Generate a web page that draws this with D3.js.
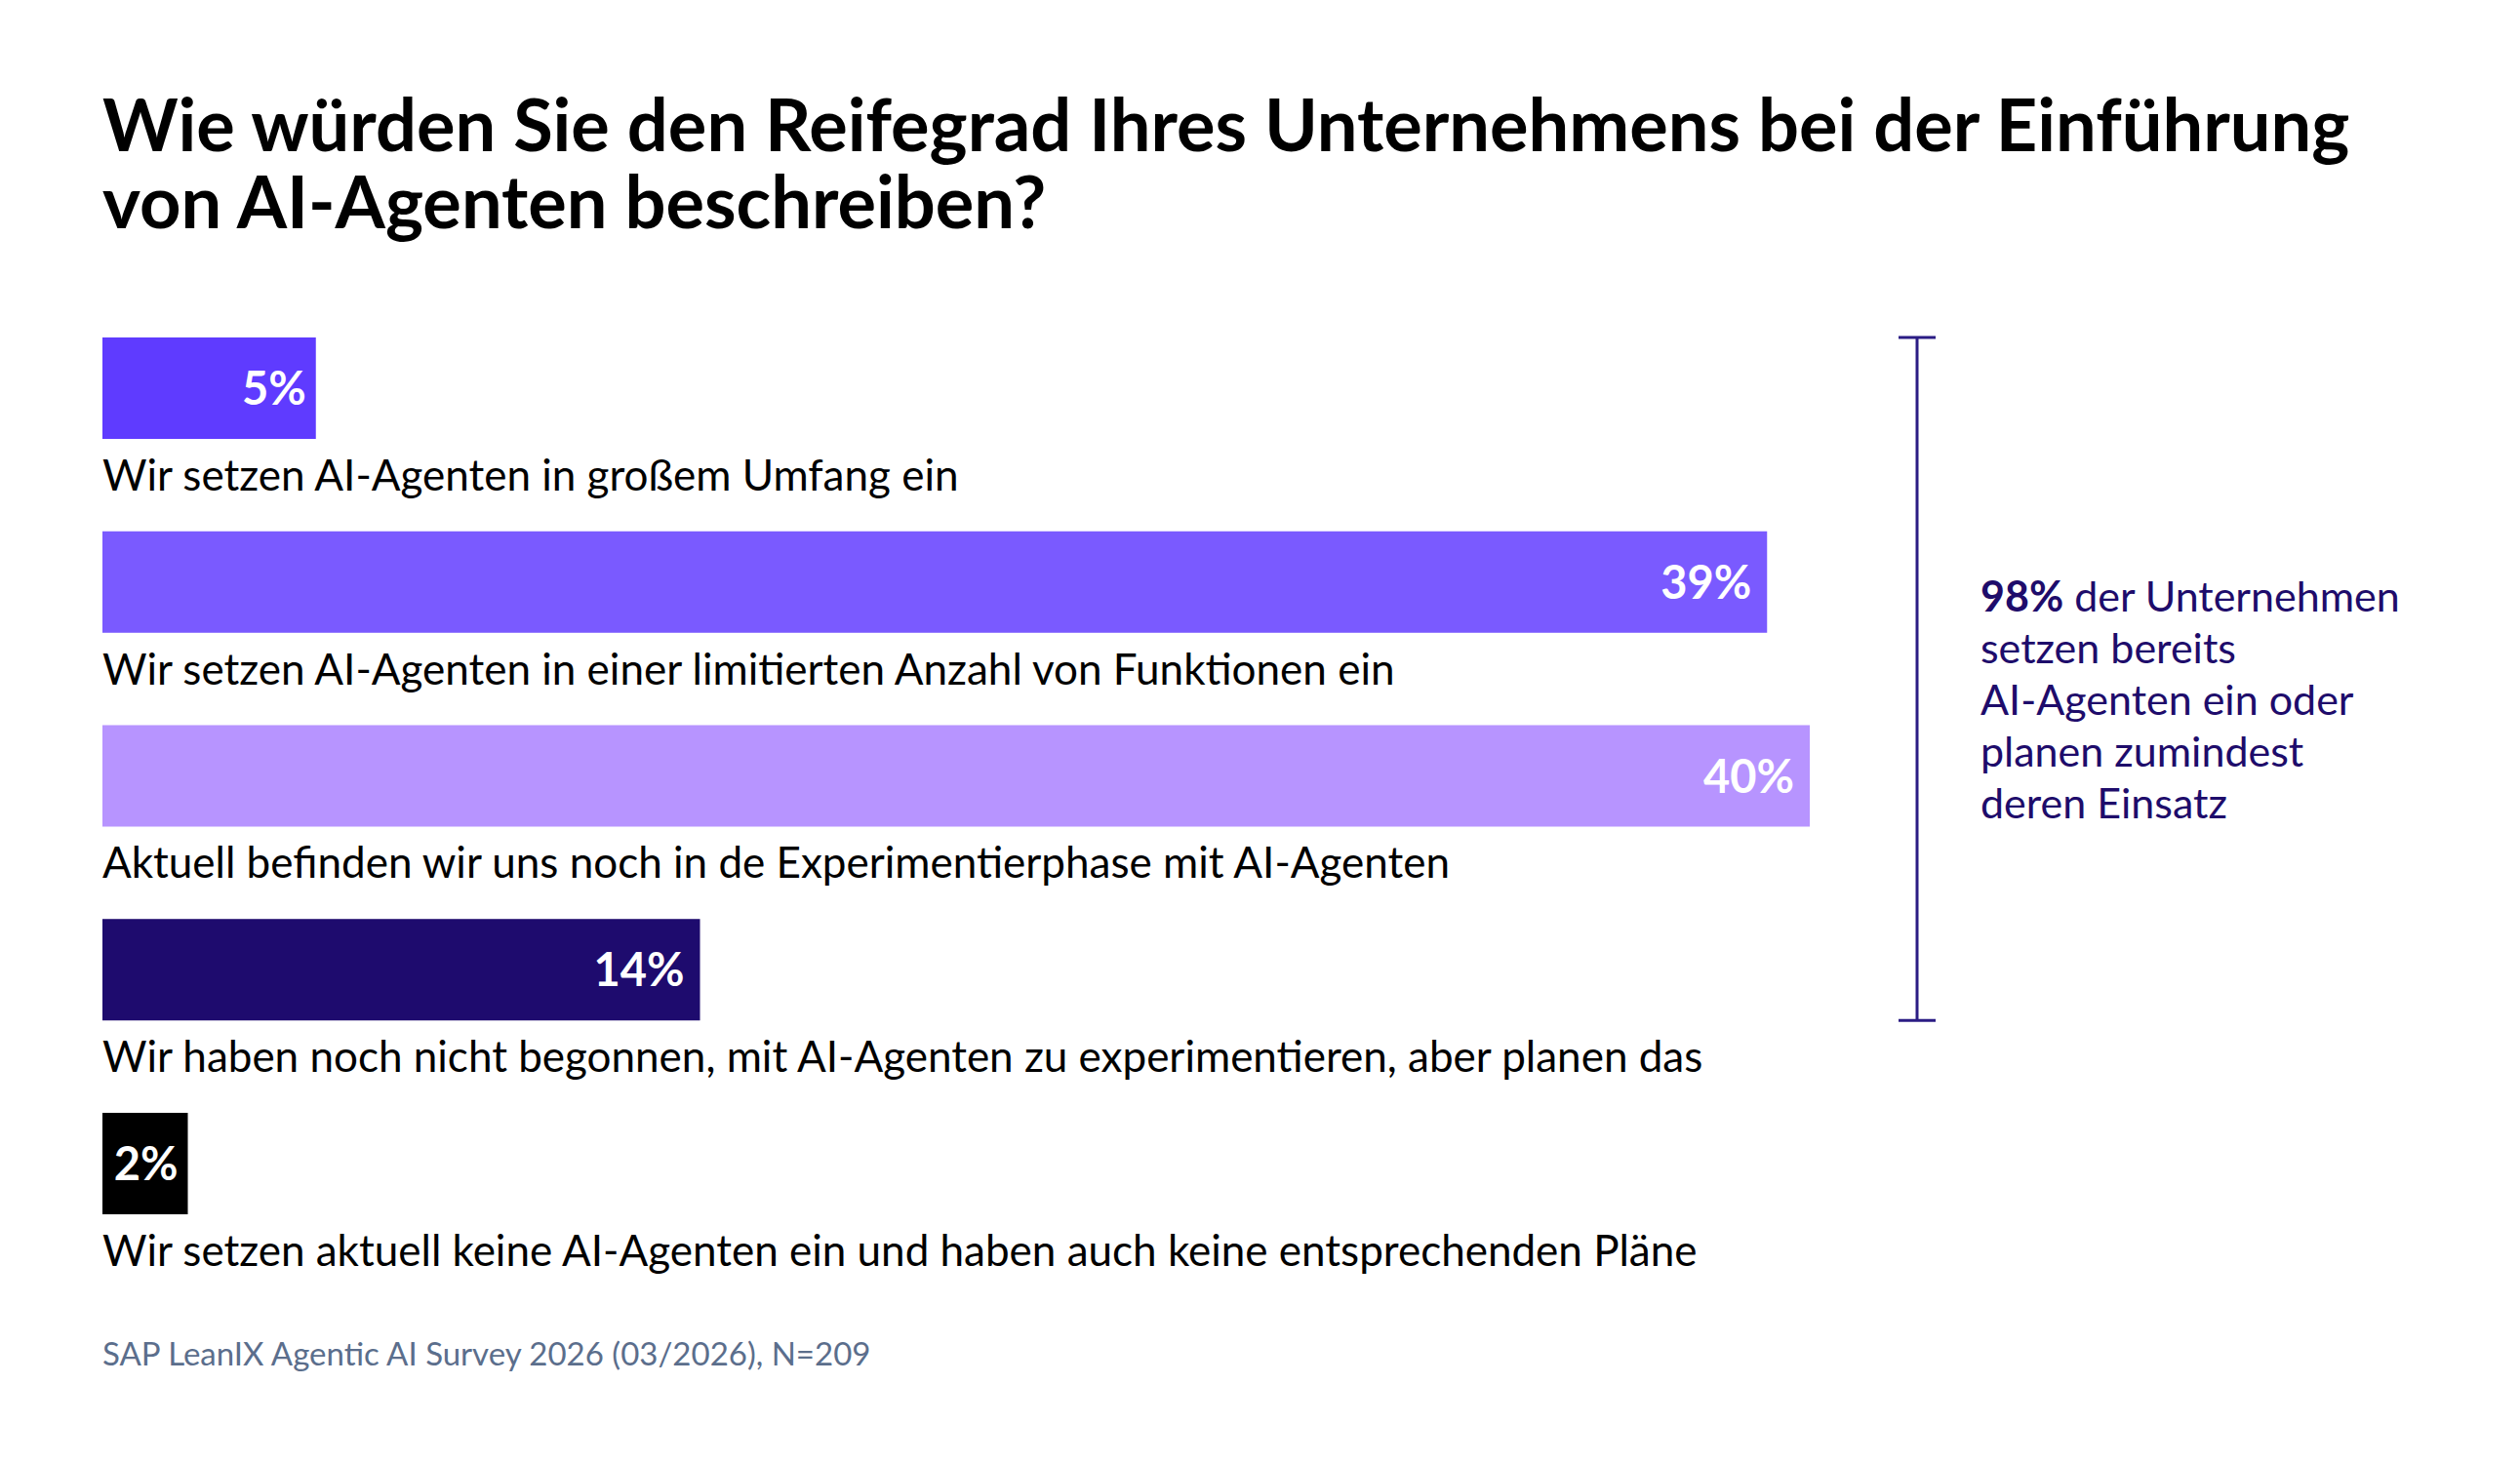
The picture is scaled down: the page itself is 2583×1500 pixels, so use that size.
<!DOCTYPE html>
<html>
<head>
<meta charset="utf-8">
<script src="https://cdn.jsdelivr.net/npm/d3@7"></script>
<style>
  html, body { margin: 0; padding: 0; background: #fff; }
  svg { display: block; }
</style>
</head>
<body>
<svg id="chart"></svg>
<script>
// data
const categories = [
  "Wir setzen AI-Agenten in großem Umfang ein",
  "Wir setzen AI-Agenten in einer limitierten Anzahl von Funktionen ein",
  "Aktuell befinden wir uns noch in de Experimentierphase mit AI-Agenten",
  "Wir haben noch nicht begonnen, mit AI-Agenten zu experimentieren, aber planen das",
  "Wir setzen aktuell keine AI-Agenten ein und haben auch keine entsprechenden Pläne"
];
const values = [5, 39, 40, 14, 2];
const titleLines = [
  "Wie würden Sie den Reifegrad Ihres Unternehmens bei der Einführung",
  "von AI-Agenten beschreiben?"
];
const calloutBold = "98%";
const calloutLines = [
  " der Unternehmen",
  "setzen bereits",
  "AI-Agenten ein oder",
  "planen zumindest",
  "deren Einsatz"
];
const bracketCount = 4; // first four answers use or plan AI agents
const source = "SAP LeanIX Agentic AI Survey 2026 (03/2026), N=209";

// palette
const barColors = ["#5f3bff", "#7a5aff", "#b794ff", "#1e0b6e", "#000000"];
const ink = "#1e0c6b";

const W = 2583, H = 1500;
const left = 105;
const fontBody = "Lato, 'Open Sans', sans-serif";

const svg = d3.select("#chart")
  .attr("width", W)
  .attr("height", H)
  .attr("viewBox", `0 0 ${W} ${H}`);

svg.append("rect").attr("width", W).attr("height", H).attr("fill", "#fff");

// scales
const x = d3.scaleLinear()
  .domain([0, 40])
  .range([left, left + 1750]);

const y = d3.scaleBand()
  .domain(categories)
  .range([346, 1245])
  .paddingInner(0.4766)
  .paddingOuter(0);

// title
svg.append("text")
  .attr("class", "title")
  .attr("font-family", fontBody)
  .attr("font-weight", 700)
  .attr("font-size", 74)
  .attr("fill", "#000")
  .selectAll("tspan")
  .data(titleLines)
  .enter()
  .append("tspan")
  .attr("x", left)
  .attr("y", (d, i) => 155 + i * 79)
  .text(d => d);

// bars
svg.append("g")
  .attr("class", "bars")
  .selectAll("rect")
  .data(values)
  .enter()
  .append("rect")
  .attr("x", x(0))
  .attr("y", (d, i) => y(categories[i]))
  .attr("width", d => x(d) - x(0))
  .attr("height", y.bandwidth())
  .attr("fill", (d, i) => barColors[i]);

// value labels inside bars
svg.append("g")
  .attr("class", "value-labels")
  .selectAll("text")
  .data(values)
  .enter()
  .append("text")
  .attr("x", d => x(d) - (d < 10 ? 10 : 16))
  .attr("y", (d, i) => y(categories[i]) + y.bandwidth() / 2 + 17)
  .attr("text-anchor", "end")
  .attr("font-family", fontBody)
  .attr("font-weight", 700)
  .attr("font-size", 47)
  .attr("fill", "#fff")
  .text(d => `${d}%`);

// category labels under bars
svg.append("g")
  .attr("class", "cat-labels")
  .selectAll("text")
  .data(categories)
  .enter()
  .append("text")
  .attr("x", left)
  .attr("y", d => y(d) + 157)
  .attr("font-family", fontBody)
  .attr("font-size", 44)
  .attr("fill", "#000")
  .text(d => d);

// bracket for the first four answers
const bx = 1965;
const by0 = y(categories[0]);
const by1 = y(categories[bracketCount - 1]) + y.bandwidth();
const bracket = svg.append("g")
  .attr("class", "bracket")
  .attr("stroke", "#2b1c84")
  .attr("stroke-width", 3);
bracket.append("line").attr("x1", bx).attr("x2", bx).attr("y1", by0).attr("y2", by1);
bracket.append("line").attr("x1", bx - 19).attr("x2", bx + 19).attr("y1", by0).attr("y2", by0);
bracket.append("line").attr("x1", bx - 19).attr("x2", bx + 19).attr("y1", by1).attr("y2", by1);

// callout text
const callout = svg.append("text")
  .attr("class", "callout")
  .attr("font-family", fontBody)
  .attr("font-size", 43)
  .attr("fill", ink);

calloutLines.forEach((line, i) => {
  const t = callout.append("tspan")
    .attr("x", 2030)
    .attr("y", 627 + i * 53);
  if (i === 0) {
    t.append("tspan").attr("font-weight", 700).text(calloutBold);
    callout.append("tspan").text(line);
  } else {
    t.text(line);
  }
});

// source
svg.append("text")
  .attr("class", "source")
  .attr("x", left)
  .attr("y", 1400)
  .attr("font-family", fontBody)
  .attr("font-size", 33)
  .attr("fill", "#5b6e8c")
  .text(source);
</script>
</body>
</html>
